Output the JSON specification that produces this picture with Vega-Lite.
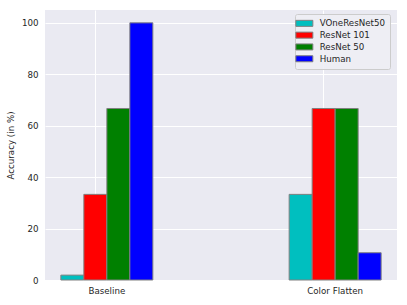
{
  "$schema": "https://vega.github.io/schema/vega-lite/v6.json",
  "width": 352,
  "height": 270,
  "autosize": {"type": "none"},
  "padding": {"left": 45, "top": 10, "right": 10, "bottom": 25},
  "background": "white",
  "config": {
    "font": "DejaVu Sans",
    "view": {"fill": "#EAEAF2", "stroke": null},
    "axis": {
      "domain": false, "ticks": false, "tickSize": 0,
      "gridColor": "white", "gridWidth": 1, "gridOpacity": 1,
      "labelColor": "#262626", "labelFontSize": 8.7, "titleColor": "#262626",
      "titleFontSize": 8.7, "titleFontWeight": "normal"
    }
  },
  "data": {
    "values": [
      {"group": "Baseline", "model": "VOneResNet50", "acc": 1.9},
      {"group": "Baseline", "model": "ResNet 101", "acc": 33.3},
      {"group": "Baseline", "model": "ResNet 50", "acc": 66.7},
      {"group": "Baseline", "model": "Human", "acc": 100},
      {"group": "Color Flatten", "model": "VOneResNet50", "acc": 33.3},
      {"group": "Color Flatten", "model": "ResNet 101", "acc": 66.7},
      {"group": "Color Flatten", "model": "ResNet 50", "acc": 66.7},
      {"group": "Color Flatten", "model": "Human", "acc": 10.6}
    ]
  },
  "mark": {"type": "bar", "stroke": "gray", "strokeWidth": 1},
  "encoding": {
    "x": {
      "field": "group", "type": "nominal",
      "scale": {"domain": ["Baseline", "Color Flatten"], "paddingInner": 0.597, "paddingOuter": 0.0694},
      "axis": {"title": null, "labelAngle": 0, "grid": true, "bandPosition": 0.375, "labelPadding": 6, "labelBaseline": "top"}
    },
    "xOffset": {
      "field": "model", "type": "nominal",
      "scale": {"domain": ["VOneResNet50", "ResNet 101", "ResNet 50", "Human"], "paddingInner": 0, "paddingOuter": 0}
    },
    "y": {
      "field": "acc", "type": "quantitative",
      "scale": {"domain": [0, 105], "nice": false},
      "axis": {"title": "Accuracy (in %)", "values": [0, 20, 40, 60, 80, 100], "labelPadding": 7, "titlePadding": 6}
    },
    "color": {
      "field": "model", "type": "nominal",
      "scale": {"domain": ["VOneResNet50", "ResNet 101", "ResNet 50", "Human"], "range": ["#00BFBF", "#FF0000", "#008000", "#0000FF"]},
      "legend": {
        "title": null, "orient": "none", "legendX": 250, "legendY": 4,
        "symbolType": "M-2.43,-0.86H2.43V0.86H-2.43Z", "symbolSize": 49,
        "symbolStrokeColor": "gray", "symbolStrokeWidth": 1, "symbolOpacity": 1,
        "labelFontSize": 8.7, "labelColor": "#262626", "labelOffset": 11,
        "rowPadding": 0.8, "padding": 5, "fillColor": "rgba(238,238,244,0.9)",
        "strokeColor": "#cccccc", "cornerRadius": 2
      }
    }
  }
}
